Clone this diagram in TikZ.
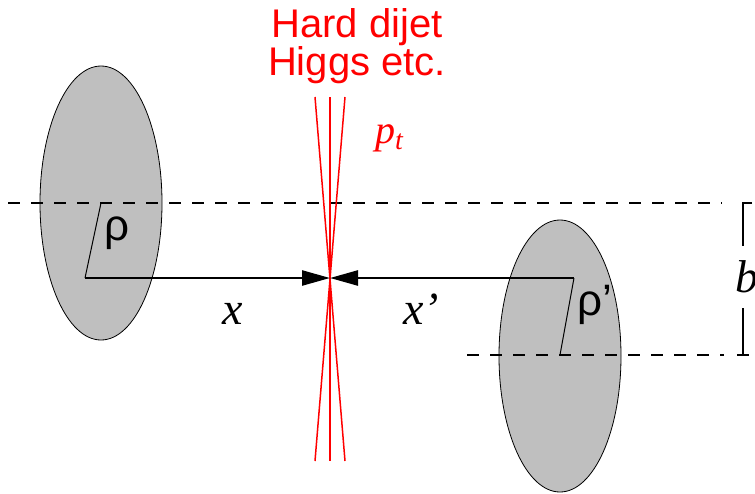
\documentclass[tikz,border=0pt]{standalone}
\usepackage{fontspec}
\setmainfont{Liberation Serif}
\newfontfamily\helv{Liberation Sans}
\usetikzlibrary{arrows.meta}
\begin{document}
\begin{tikzpicture}[x=1pt,y=-1pt,
  blobfill/.style={fill=black!25},
  blobline/.style={draw=black,line width=0.8pt},
  guide/.style={dash pattern=on 12pt off 11pt,line width=1.3pt},
  brk/.style={line width=1.2pt},
  radius line/.style={line width=1pt},
  mom/.style={line width=2.5pt,-{Triangle[length=28pt,width=15pt]}},
  jet/.style={red,line width=1.5pt},
  sanslab/.style={inner sep=0pt,font=\helv\fontsize{44}{50}\selectfont},
  mathlab/.style={inner sep=0pt,font=\itshape\fontsize{46}{52}\selectfont},
  redlab/.style={red,inner sep=0pt,font=\helv\fontsize{40}{46}\selectfont}]
\useasboundingbox (0,0) rectangle (755,493);
% blobs
\fill[blobfill] (101,203) ellipse [x radius=61, y radius=137];
\draw[blobline] (101,203) ellipse [x radius=61, y radius=137];
\fill[blobfill] (560,356) ellipse [x radius=61, y radius=136];
\draw[blobline] (560,356) ellipse [x radius=61, y radius=136];
% coordinates
\coordinate (c1) at (85,278);
\coordinate (c2) at (574,278);
\coordinate (hit) at (330,278);
\coordinate (r1) at (101,203);
\coordinate (r2) at (560,355);
\coordinate (dl1) at (8,203);
\coordinate (dr1) at (722,203);
\coordinate (dl2) at (467,355);
\coordinate (dr2) at (724,355);
% dashed guides
\draw[guide] (dl1) -- (dr1);
\draw[guide] (dl2) -- (dr2);
% bracket for b
\coordinate (bt1) at (752,203);
\coordinate (bt2) at (743,203);
\coordinate (bt3) at (743,246);
\coordinate (bb1) at (743,308);
\coordinate (bb2) at (743,355);
\coordinate (bb3) at (737,355);
\coordinate (bb4) at (749,355);
\draw[brk] (bt1) -- (bt2) -- (bt3);
\draw[brk] (bb1) -- (bb2);
\draw[brk] (bb3) -- (bb4);
% radius lines
\draw[radius line] (c1) -- (r1);
\draw[radius line] (c2) -- (r2);
% jets
\coordinate (j1a) at (315,97); \coordinate (j1b) at (345,461);
\coordinate (j2a) at (330,97); \coordinate (j2b) at (330,461);
\coordinate (j3a) at (345,97); \coordinate (j3b) at (315,461);
\draw[jet] (j1a) -- (j1b);
\draw[jet] (j2a) -- (j2b);
\draw[jet] (j3a) -- (j3b);
% momentum arrows
\draw[mom] (c1) -- (hit);
\draw[mom] (c2) -- (hit);
% labels
\node[redlab,anchor=base] (t1) at (357,37) {Hard dijet};
\node[redlab,anchor=base] (t2) at (357,75) {Higgs etc.};
\node[red,inner sep=0pt,anchor=base west] (pt) at (375,143) {\fontsize{40}{46}\selectfont\itshape p\fontsize{28}{32}\selectfont\raisebox{-6pt}{t}};
\node[sanslab,anchor=base west] (rho1) at (104,240) {ρ};
\node[sanslab,anchor=base west] (rho2) at (577,315) {ρ’};
\node[mathlab,anchor=base] (xl) at (233,324) {x};
\node[mathlab,anchor=base west] (xr) at (403,324) {x’};
\node[mathlab,anchor=base west] (bl) at (735,292) {b};
\end{tikzpicture}
\end{document}
